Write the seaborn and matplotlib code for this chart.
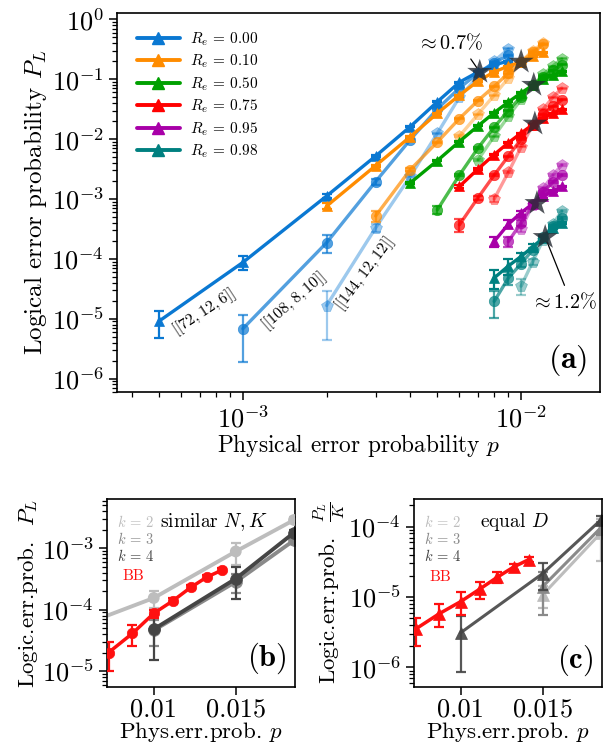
import numpy as np
import matplotlib
matplotlib.use("Agg")
import matplotlib.pyplot as plt
import seaborn as sns
from matplotlib.ticker import LogLocator, NullLocator, FixedLocator, FixedFormatter, NullFormatter
from matplotlib.lines import Line2D

# ---------------- data: panel (a) ----------------
re_labels = ["0.00", "0.10", "0.50", "0.75", "0.95", "0.98"]
re_colors = ["#0a78d2", "#ff8c00", "#00a000", "#ff0000", "#a800a8", "#008080"]

# Re = 0.00
b72_p = [5e-4, 1e-3, 2e-3, 3e-3, 4e-3, 5e-3, 6e-3, 7e-3, 8e-3, 9e-3]
b72_pl = [9.1e-6, 8.7e-5, 1.12e-3, 5.2e-3, 1.62e-2, 4.2e-2, 8.9e-2, 0.132, 0.174, 0.20]
b72_re = [0.48, 0.26, 0.06, 0.03, 0.02, 0.02, 0.02, 0.02, 0.02, 0.02]
b108_p = [1e-3, 2e-3, 3e-3, 4e-3, 5e-3, 6e-3, 7e-3, 8e-3, 9e-3]
b108_pl = [6.8e-6, 1.86e-4, 1.95e-3, 9.8e-3, 3.2e-2, 7.1e-2, 0.126, 0.19, 0.25]
b108_re = [0.72, 0.32, 0.12, 0.03, 0.02, 0.02, 0.02, 0.02, 0.02]
b144_p = [2e-3, 3e-3, 4e-3, 5e-3, 6e-3, 7e-3, 8e-3, 9e-3]
b144_pl = [1.66e-5, 3.3e-4, 2.4e-3, 1.25e-2, 5.0e-2, 0.112, 0.20, 0.32]
b144_re = [0.73, 0.15, 0.04, 0.02, 0.02, 0.02, 0.02, 0.02]

# Re = 0.10
o72_p = [2e-3, 3e-3, 4e-3, 5e-3, 6e-3, 7e-3, 8e-3, 9e-3, 1e-2, 1.1e-2, 1.2e-2]
o72_pl = [7.6e-4, 3.6e-3, 1.1e-2, 2.7e-2, 5.4e-2, 9.3e-2, 0.132, 0.166, 0.195, 0.24, 0.28]
o72_re = [0.12, 0.04, 0.02, 0.02, 0.02, 0.02, 0.02, 0.02, 0.02, 0.02, 0.02]
o108_p = [3e-3, 4e-3, 5e-3, 6e-3, 7e-3, 8e-3, 9e-3, 1e-2, 1.1e-2, 1.2e-2]
o108_pl = [5.2e-4, 3.1e-3, 8.9e-3, 2.2e-2, 4.4e-2, 7.6e-2, 0.126, 0.195, 0.28, 0.38]
o108_re = [0.2, 0.05, 0.02, 0.02, 0.02, 0.02, 0.02, 0.02, 0.02, 0.02]
o144_p = [6e-3, 7e-3, 8e-3, 9e-3, 1e-2, 1.1e-2, 1.2e-2]
o144_pl = [1.12e-2, 2.6e-2, 5.4e-2, 0.105, 0.195, 0.30, 0.40]
o144_re = [0.04, 0.02, 0.02, 0.02, 0.02, 0.02, 0.02]

# Re = 0.50
g72_p = [4e-3, 5e-3, 6e-3, 7e-3, 8e-3, 9e-3, 1e-2, 1.1e-2, 1.2e-2, 1.3e-2, 1.4e-2]
g72_pl = [1.86e-3, 4.37e-3, 9.1e-3, 1.66e-2, 2.75e-2, 4.17e-2, 5.9e-2, 7.9e-2, 0.1, 0.117, 0.135]
g72_re = [0.05, 0.03, 0.02, 0.02, 0.02, 0.02, 0.02, 0.02, 0.02, 0.02, 0.02]
g108_p = [5e-3, 6e-3, 7e-3, 8e-3, 9e-3, 1e-2, 1.1e-2, 1.2e-2, 1.3e-2, 1.4e-2]
g108_pl = [6.6e-4, 2.5e-3, 7.1e-3, 1.58e-2, 3.0e-2, 5.1e-2, 7.9e-2, 0.11, 0.141, 0.174]
g108_re = [0.15, 0.04, 0.02, 0.02, 0.02, 0.02, 0.02, 0.02, 0.02, 0.02]
g144_p = [7e-3, 8e-3, 9e-3, 1e-2, 1.1e-2, 1.2e-2, 1.3e-2, 1.4e-2]
g144_pl = [4.5e-3, 1.12e-2, 2.4e-2, 4.6e-2, 7.9e-2, 0.12, 0.166, 0.219]
g144_re = [0.05, 0.02, 0.02, 0.02, 0.02, 0.02, 0.02, 0.02]

# Re = 0.75
r72_p = [6e-3, 7e-3, 8e-3, 9e-3, 1e-2, 1.1e-2, 1.2e-2, 1.3e-2, 1.4e-2]
r72_pl = [1.62e-3, 3.16e-3, 5.5e-3, 8.7e-3, 1.26e-2, 1.74e-2, 2.24e-2, 2.7e-2, 3.16e-2]
r72_re = [0.06, 0.03, 0.02, 0.02, 0.02, 0.02, 0.02, 0.02, 0.02]
r108_p = [6e-3, 7e-3, 8e-3, 9e-3, 1e-2, 1.1e-2, 1.2e-2, 1.3e-2, 1.4e-2]
r108_pl = [3.7e-4, 1.05e-3, 2.5e-3, 5.2e-3, 1.0e-2, 1.74e-2, 2.6e-2, 3.5e-2, 4.5e-2]
r108_re = [0.25, 0.08, 0.03, 0.02, 0.02, 0.02, 0.02, 0.02, 0.02]
r144_p = [8e-3, 9e-3, 1e-2, 1.1e-2, 1.2e-2, 1.3e-2, 1.4e-2]
r144_pl = [1.0e-3, 2.8e-3, 7.4e-3, 1.7e-2, 3.16e-2, 5.0e-2, 7.1e-2]
r144_re = [0.1, 0.04, 0.02, 0.02, 0.02, 0.02, 0.02]

# Re = 0.95
pu72_p = [8e-3, 9e-3, 1e-2, 1.1e-2, 1.2e-2, 1.3e-2, 1.4e-2]
pu72_pl = [1.95e-4, 3.8e-4, 5.9e-4, 8.3e-4, 1.1e-3, 1.35e-3, 1.62e-3]
pu72_re = [0.2, 0.15, 0.08, 0.05, 0.04, 0.03, 0.03]
pu108_p = [9e-3, 1e-2, 1.1e-2, 1.2e-2, 1.3e-2, 1.4e-2]
pu108_pl = [1.95e-4, 4.0e-4, 8.1e-4, 1.32e-3, 1.9e-3, 2.5e-3]
pu108_re = [0.2, 0.1, 0.05, 0.04, 0.03, 0.03]
pu144_p = [1e-2, 1.1e-2, 1.2e-2, 1.3e-2, 1.4e-2]
pu144_pl = [3.16e-4, 7.9e-4, 1.5e-3, 2.5e-3, 3.7e-3]
pu144_re = [0.12, 0.06, 0.04, 0.03, 0.03]

# Re = 0.98
t72_p = [8e-3, 9e-3, 1e-2, 1.1e-2, 1.2e-2, 1.3e-2, 1.4e-2]
t72_pl = [4.8e-5, 7.6e-5, 1.1e-4, 1.58e-4, 2.24e-4, 3.3e-4, 4.0e-4]
t72_re = [0.35, 0.3, 0.15, 0.1, 0.06, 0.05, 0.05]
t108_p = [8e-3, 9e-3, 1e-2, 1.1e-2, 1.2e-2, 1.3e-2, 1.4e-2]
t108_pl = [1.95e-5, 4.8e-5, 8.3e-5, 1.41e-4, 2.34e-4, 3.5e-4, 4.8e-4]
t108_re = [0.48, 0.25, 0.12, 0.08, 0.05, 0.04, 0.04]
t144_p = [1e-2, 1.1e-2, 1.2e-2, 1.3e-2, 1.4e-2]
t144_pl = [3.5e-5, 8.9e-5, 2.1e-4, 3.8e-4, 6.3e-4]
t144_re = [0.3, 0.12, 0.06, 0.05, 0.04]

# thresholds (stars)
star_p = [7.1e-3, 1.0e-2, 1.11e-2, 1.12e-2, 1.14e-2, 1.22e-2]
star_pl = [0.132, 0.195, 0.08, 0.018, 8.5e-4, 2.3e-4]

code_labels = ["$[[72,12,6]]$", "$[[108,8,10]]$", "$[[144,12,12]]$"]

# ---------------- data: panel (b) ----------------
bb_p = [8e-3, 9e-3, 1e-2, 1.1e-2, 1.2e-2, 1.3e-2, 1.4e-2]
bb_pl_b = [2.0e-5, 4.1e-5, 8.7e-5, 1.4e-4, 2.3e-4, 3.4e-4, 4.4e-4]
bb_re_b = [0.5, 0.37, 0.15, 0.12, 0.1, 0.08, 0.08]
k2_p_b = [5e-3, 1e-2, 1.5e-2, 2e-2]
k2_pl_b = [2.1e-5, 1.55e-4, 8.9e-4, 2.9e-3]
k2_re_b = [0.0, 0.32, 0.39, 0.12]
k3_p_b = [1e-2, 1.5e-2, 2e-2]
k3_pl_b = [4.6e-5, 2.85e-4, 1.35e-3]
k3_re_b = [0.45, 0.35, 0.12]
k4_p_b = [1e-2, 1.5e-2, 2e-2]
k4_pl_b = [4.8e-5, 3.2e-4, 1.8e-3]
k4_re_b = [0.68, 0.53, 0.1]

# ---------------- data: panel (c) ----------------
bb_pl_c = [3.5e-6, 5.8e-6, 8.6e-6, 1.3e-5, 1.92e-5, 2.67e-5, 3.4e-5]
bb_re_c = [0.43, 0.35, 0.36, 0.27, 0.18, 0.1, 0.08]
k2_p_c = [1.5e-2, 2e-2]
k2_pl_c = [1.07e-5, 8.1e-5]
k2_re_c = [0.35, 0.6]
k3_p_c = [1.5e-2, 2e-2]
k3_pl_c = [1.4e-5, 9.6e-5]
k3_re_c = [0.6, 0.2]
k4_p_c = [1e-2, 1.5e-2, 2e-2]
k4_pl_c = [3.1e-6, 2.15e-5, 1.24e-4]
k4_re_c = [0.72, 0.42, 0.15]

k_labels = ["$k$ = 2", "$k$ = 3", "$k$ = 4"]
k_colors = ["#bdbdbd", "#8a8a8a", "#454545"]
bb_color = "#ff1010"

# ---------------- style ----------------
sns.set_theme(style="ticks")
plt.rcParams.update({
    "font.family": ["cmr10", "DejaVu Serif"],
    "mathtext.fontset": "cm",
    "axes.formatter.use_mathtext": True,
    "axes.unicode_minus": False,
    "axes.linewidth": 1.2,
    "axes.edgecolor": "black",
    "xtick.color": "black",
    "ytick.color": "black",
    "xtick.direction": "out",
    "ytick.direction": "out",
    "xtick.major.size": 6,
    "ytick.major.size": 6,
    "xtick.minor.size": 3.5,
    "ytick.minor.size": 3.5,
    "xtick.major.width": 1.1,
    "ytick.major.width": 1.1,
    "xtick.minor.width": 0.9,
    "ytick.minor.width": 0.9,
    "text.color": "black",
    "axes.labelcolor": "black",
})

fig = plt.figure(figsize=(6.03, 7.47), dpi=100)
fig.patch.set_facecolor("white")
W, H = 603.0, 747.0


def box(l, t, r, b):
    return [l / W, 1 - b / H, (r - l) / W, (b - t) / H]


def draw(ax, p, pl, rel, color, alpha, marker, ms=7.5, lw=2.4, z=2):
    sns.lineplot(x=p, y=pl, ax=ax, color=color, alpha=alpha, marker=marker,
                 markersize=ms, markeredgecolor=color, markeredgewidth=0.5,
                 linewidth=lw, zorder=z, legend=False, estimator=None, sort=False)
    err = np.array(pl) * np.array(rel)
    ax.errorbar(p, pl, yerr=err, fmt="none", ecolor=color, alpha=alpha,
                elinewidth=1.6, capsize=3.5, capthick=1.6, zorder=z)


# ---------------- panel (a) ----------------
ax = fig.add_axes(box(117.3, 12.7, 600, 392.3))
ax.set_xscale("log")
ax.set_yscale("log")

series = [
    (re_colors[0], [(b72_p, b72_pl, b72_re), (b108_p, b108_pl, b108_re), (b144_p, b144_pl, b144_re)]),
    (re_colors[1], [(o72_p, o72_pl, o72_re), (o108_p, o108_pl, o108_re), (o144_p, o144_pl, o144_re)]),
    (re_colors[2], [(g72_p, g72_pl, g72_re), (g108_p, g108_pl, g108_re), (g144_p, g144_pl, g144_re)]),
    (re_colors[3], [(r72_p, r72_pl, r72_re), (r108_p, r108_pl, r108_re), (r144_p, r144_pl, r144_re)]),
    (re_colors[4], [(pu72_p, pu72_pl, pu72_re), (pu108_p, pu108_pl, pu108_re), (pu144_p, pu144_pl, pu144_re)]),
    (re_colors[5], [(t72_p, t72_pl, t72_re), (t108_p, t108_pl, t108_re), (t144_p, t144_pl, t144_re)]),
]
alphas = [1.0, 0.7, 0.4]
markers = ["^", "o", "p"]
for color, codes in series:
    for (p, pl, rel), a, m in zip(codes, alphas, markers):
        draw(ax, p, pl, rel, color, a, m, ms=(7.5 if m != "p" else 8.5))

sns.scatterplot(x=star_p, y=star_pl, ax=ax, marker="*", s=360, color="#262b33",
                alpha=0.8, edgecolor="none", zorder=10, legend=False)

ax.set_xlim(3.54e-4, 1.92e-2)
ax.set_ylim(5.9e-7, 1.29)
ax.yaxis.set_major_locator(LogLocator(base=10, numticks=20))
ax.yaxis.set_minor_locator(LogLocator(base=10, subs=np.arange(2, 10), numticks=100))
ax.yaxis.set_minor_formatter(NullFormatter())
ax.xaxis.set_minor_locator(LogLocator(base=10, subs=np.arange(2, 10), numticks=100))
ax.xaxis.set_minor_formatter(NullFormatter())
ax.tick_params(axis="both", which="major", labelsize=19)
ax.set_xlabel("Physical error probability $p$", fontsize=16.8, labelpad=0)
ax.set_ylabel("Logical error probability $P_L$", fontsize=18, labelpad=2)
for s in ax.spines.values():
    s.set_visible(True)

# code labels
ax.text(7.26e-4, 1.27e-5, code_labels[0], rotation=33, fontsize=11.5, ha="center", va="center")
ax.text(1.52e-3, 1.94e-5, code_labels[1], rotation=41, fontsize=11.5, ha="center", va="center")
ax.text(2.75e-3, 5.5e-5, code_labels[2], rotation=53, fontsize=11.5, ha="center", va="center")

ax.annotate(r"$\approx 0.7\%$", xy=(star_p[0], star_pl[0]), xytext=(5.57e-3, 0.40),
            fontsize=14.5, ha="center", va="center",
            arrowprops=dict(arrowstyle="-", lw=0.9, color="black", shrinkA=2, shrinkB=4,
                            relpos=(0.75, 0.0)))
ax.annotate(r"$\approx 1.2\%$", xy=(star_p[5], star_pl[5]), xytext=(1.42e-2, 1.94e-5),
            fontsize=14.5, ha="center", va="center",
            arrowprops=dict(arrowstyle="-", lw=0.9, color="black", shrinkA=2, shrinkB=4,
                            relpos=(0.55, 1.0)))
ax.text(0.934, 0.085, r"$\mathbf{(a)}$", transform=ax.transAxes, fontsize=23,
        ha="center", va="center")

handles = [Line2D([], [], color=c, marker="^", lw=2.8, ms=8) for c in re_colors]
labels = [f"$R_e$ = {r}" for r in re_labels]
ax.legend(handles, labels, loc="upper left", bbox_to_anchor=(0.012, 0.99), frameon=False,
          fontsize=11, handlelength=2.8, labelspacing=0.32, handletextpad=0.7, numpoints=1)

# ---------------- panels (b) and (c) ----------------
def small_axes(rect):
    a = fig.add_axes(rect)
    a.set_xscale("log")
    a.set_yscale("log")
    a.set_xlim(7.95e-3, 2.01e-2)
    a.xaxis.set_major_locator(FixedLocator([0.01, 0.015]))
    a.xaxis.set_major_formatter(FixedFormatter(["0.01", "0.015"]))
    a.xaxis.set_minor_locator(NullLocator())
    a.yaxis.set_major_locator(LogLocator(base=10, numticks=20))
    a.yaxis.set_minor_locator(LogLocator(base=10, subs=np.arange(2, 10), numticks=100))
    a.yaxis.set_minor_formatter(NullFormatter())
    a.tick_params(axis="both", which="major", labelsize=19)
    a.tick_params(axis="x", which="major", pad=2)
    a.set_xlabel("Phys.err.prob. $p$", fontsize=16.5, labelpad=-1)
    return a


axb = small_axes(box(107.3, 499.3, 295, 686.7))
draw(axb, k2_p_b, k2_pl_b, k2_re_b, k_colors[0], 1.0, None, lw=2.8)
draw(axb, k3_p_b, k3_pl_b, k3_re_b, k_colors[1], 1.0, "o", ms=8.5, lw=2.8)
draw(axb, k4_p_b, k4_pl_b, k4_re_b, k_colors[2], 1.0, "o", ms=8.5, lw=2.8)
sns.scatterplot(x=k2_p_b[1:], y=k2_pl_b[1:], ax=axb, color=k_colors[0], s=72,
                edgecolor="none", zorder=3, legend=False)
draw(axb, bb_p, bb_pl_b, bb_re_b, bb_color, 1.0, "o", ms=7.5, lw=2.5, z=4)
axb.set_ylim(5.55e-6, 6.3e-3)
axb.set_ylabel("Logic.err.prob.  $P_L$", fontsize=16.5, labelpad=1)
for i, (lab, c) in enumerate(zip(k_labels, k_colors)):
    axb.text(0.05, 0.88 - 0.09 * i, lab, color=c, fontsize=10.5, transform=axb.transAxes,
             ha="left", va="center")
axb.text(0.08, 0.59, "BB", color=bb_color, fontsize=11, transform=axb.transAxes,
         ha="left", va="center")
axb.text(0.28, 0.88, "similar $N, K$", fontsize=14, transform=axb.transAxes,
         ha="left", va="center")
axb.text(0.851, 0.153, r"$\mathbf{(b)}$", transform=axb.transAxes, fontsize=22,
         ha="center", va="center")

axc = small_axes(box(414.3, 499.3, 601.7, 686.7))
draw(axc, k2_p_c, k2_pl_c, k2_re_c, k_colors[0], 1.0, "^", ms=8.5, lw=2.2)
draw(axc, k3_p_c, k3_pl_c, k3_re_c, k_colors[1], 1.0, "^", ms=8.5, lw=2.2)
draw(axc, k4_p_c, k4_pl_c, k4_re_c, k_colors[2], 0.9, "^", ms=8.5, lw=2.2)
draw(axc, bb_p, bb_pl_c, bb_re_c, bb_color, 1.0, "^", ms=9, lw=2.5, z=4)
axc.set_ylim(5.3e-7, 2.45e-4)
axc.set_ylabel(r"Logic.err.prob.  $\frac{P_L}{K}$", fontsize=16.5, labelpad=1)
for i, (lab, c) in enumerate(zip(k_labels, k_colors)):
    axc.text(0.05, 0.88 - 0.09 * i, lab, color=c, fontsize=10.5, transform=axc.transAxes,
             ha="left", va="center")
axc.text(0.08, 0.585, "BB", color=bb_color, fontsize=11, transform=axc.transAxes,
         ha="left", va="center")
axc.text(0.35, 0.88, "equal $D$", fontsize=14, transform=axc.transAxes,
         ha="left", va="center")
axc.text(0.857, 0.142, r"$\mathbf{(c)}$", transform=axc.transAxes, fontsize=22,
         ha="center", va="center")

fig.savefig("out.png", dpi=100, facecolor="white")
